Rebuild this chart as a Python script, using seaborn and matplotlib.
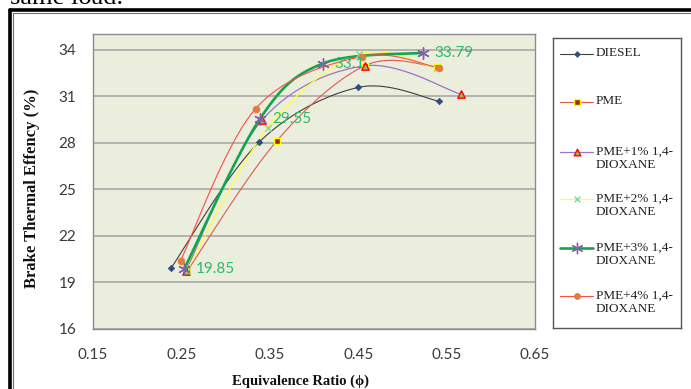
import numpy as np
import pandas as pd
import matplotlib
matplotlib.use("Agg")
import matplotlib.pyplot as plt
from matplotlib.lines import Line2D
import seaborn as sns

# Brake thermal efficiency (%) against equivalence ratio for each fuel blend
series_names = ["DIESEL", "PME", "PME+1% 1,4-\nDIOXANE", "PME+2% 1,4-\nDIOXANE",
                "PME+3% 1,4-\nDIOXANE", "PME+4% 1,4-\nDIOXANE"]
diesel_phi = [0.238, 0.338, 0.450, 0.541]
diesel_bte = [19.90, 28.04, 31.56, 30.68]
pme_phi = [0.256, 0.358, 0.458, 0.539]
pme_bte = [19.69, 28.12, 32.97, 32.88]
dx1_phi = [0.255, 0.341, 0.458, 0.566]
dx1_bte = [19.72, 29.44, 32.95, 31.12]
dx2_phi = [0.256, 0.348, 0.451, 0.539]
dx2_bte = [19.75, 28.97, 33.70, 32.78]
dx3_phi = [0.253, 0.339, 0.410, 0.523]
dx3_bte = [19.85, 29.55, 33.10, 33.79]
dx4_phi = [0.249, 0.334, 0.454, 0.541]
dx4_bte = [20.40, 30.19, 33.55, 32.82]
labelled_bte = dx3_bte  # values printed next to the PME+3% points

x_ticks = [0.15, 0.25, 0.35, 0.45, 0.55, 0.65]
y_ticks = [16, 19, 22, 25, 28, 31, 34]

series_data = [(diesel_phi, diesel_bte), (pme_phi, pme_bte), (dx1_phi, dx1_bte),
               (dx2_phi, dx2_bte), (dx3_phi, dx3_bte), (dx4_phi, dx4_bte)]

styles = [
    dict(line="#3F3F3F", lw=0.8, marker="D", s=11, fc="#2E4F7E", ec="#2E4F7E", mlw=0.5),
    dict(line="#DE5A4E", lw=0.8, marker="s", s=24, fc="#9C2A2A", ec="#FFFF00", mlw=1.0),
    dict(line="#9B72C4", lw=0.9, marker="^", s=28, fc="#9BBB59", ec="#FF0000", mlw=1.0),
    dict(line="#FFFF3A", lw=0.9, marker="x", s=22, fc="#7FD8A8", ec="#7FD8A8", mlw=1.0),
    dict(line="#12A54E", lw=1.9, marker=(6, 2, 0), s=70, fc="#8064A2", ec="#8064A2", mlw=1.0),
    dict(line="#FF4A4A", lw=0.8, marker="o", s=24, fc="#E27C3A", ec="#E27C3A", mlw=0.5),
]

# pixel scale of the plot area, used so the curve smoothing follows screen geometry
PX_X = 884.0
PX_Y = 15.56


def smooth_path(xs, ys, n=40):
    """Bezier smoothing through the given points (Catmull-Rom style controls)."""
    p = np.column_stack([np.asarray(xs) * PX_X, np.asarray(ys) * PX_Y])
    pts = np.vstack([p[0], p, p[-1]])
    segs = []
    t = np.linspace(0, 1, n)[:, None]
    for i in range(1, len(pts) - 2):
        p0, p1, p2, p3 = pts[i - 1], pts[i], pts[i + 1], pts[i + 2]
        c1 = p1 + (p2 - p0) / 6.0
        c2 = p2 - (p3 - p1) / 6.0
        seg = (1 - t) ** 3 * p1 + 3 * (1 - t) ** 2 * t * c1 + 3 * (1 - t) * t ** 2 * c2 + t ** 3 * p2
        segs.append(seg if i == 1 else seg[1:])
    c = np.vstack(segs)
    return c[:, 0] / PX_X, c[:, 1] / PX_Y


sns.set_style("white")
plt.rcParams["font.family"] = ["Lato", "DejaVu Sans"]

W, H = 691, 389
fig = plt.figure(figsize=(W / 100, H / 100), dpi=100)
fig.patch.set_facecolor("white")

L, R, T, B = 93, 535, 34, 329
ax = fig.add_axes([L / W, 1 - B / H, (R - L) / W, (B - T) / H])
ax.set_facecolor("#EBEEDD")

for (xs, ys), st in zip(series_data, styles):
    sx, sy = smooth_path(xs, ys)
    curve = pd.DataFrame({"phi": sx, "bte": sy})
    sns.lineplot(data=curve, x="phi", y="bte", ax=ax, sort=False, estimator=None,
                 color=st["line"], linewidth=st["lw"], zorder=3)
    pts = pd.DataFrame({"phi": xs, "bte": ys})
    sns.scatterplot(data=pts, x="phi", y="bte", ax=ax, marker=st["marker"], s=st["s"],
                    color=st["fc"], edgecolor=st["ec"], linewidth=st["mlw"], zorder=4)

for xv, yv in zip(dx3_phi, labelled_bte):
    ax.annotate(f"{yv:g}", (xv, yv), xytext=(12, 0), textcoords="offset pixels",
                ha="left", va="center", color="#2DB96A", fontsize=11, zorder=5)

ax.set_xlim(0.15, 0.65)
ax.set_ylim(16, 35)
ax.set_xticks(x_ticks)
ax.set_yticks(y_ticks)
ax.set_xticklabels([f"{v:.2f}" for v in x_ticks])
ax.set_yticklabels([str(v) for v in y_ticks])
ax.set_xlabel("")
ax.set_ylabel("")
ax.set_axisbelow(True)
ax.grid(axis="y", color="#A3A3A3", linewidth=1.1)
ax.grid(axis="x", visible=False)
for sp in ax.spines.values():
    sp.set_visible(True)
    sp.set_color("#8C8C8C")
    sp.set_linewidth(1.0)
ax.tick_params(axis="both", direction="out", length=4, width=0.8, color="#8C8C8C",
               labelcolor="#3A3A3A", labelsize=11)
ax.tick_params(axis="y", pad=8)
ax.tick_params(axis="x", pad=10)

serif = ["Liberation Serif", "DejaVu Serif"]
fig.text(32 / W, 1 - 188 / H, "Brake Thermal Effency (%)", rotation=90, ha="center",
         va="center", fontsize=12, fontweight="bold", family=serif, color="#111111")
fig.text(300 / W, 1 - 381 / H, "Equivalence Ratio (\u03d5)", ha="center", va="center",
         fontsize=10.5, fontweight="bold", family=serif, color="#111111")

# legend box
LL, LR, LT, LB = 553, 681, 38, 328
lax = fig.add_axes([LL / W, 1 - LB / H, (LR - LL) / W, (LB - LT) / H])
lax.set_xlim(0, LR - LL)
lax.set_ylim(LB - LT, 0)
lax.set_xticks([])
lax.set_yticks([])
lax.set_facecolor("white")
for sp in lax.spines.values():
    sp.set_color("#555555")
    sp.set_linewidth(1.0)
row_y = [16, 64, 114, 161, 210, 258]
for name, st, yy in zip(series_names, styles, row_y):
    lax.add_line(Line2D([7, 40], [yy, yy], color=st["line"], linewidth=st["lw"]))
    lax.scatter([24], [yy], marker=st["marker"], s=st["s"] * 0.8, c=st["fc"],
                edgecolors=st["ec"], linewidths=st["mlw"], zorder=3)
    lax.text(43, yy - 6.5, name, ha="left", va="top", fontsize=9.5, family=serif,
             color="#222222", linespacing=1.2)

# page frame and the line of document text above it
fig.add_artist(Line2D([10 / W, 10 / W], [0, 1 - 10 / H], color="black", lw=2.6,
                      transform=fig.transFigure))
fig.add_artist(Line2D([10 / W, 1], [1 - 10 / H, 1 - 10 / H], color="black", lw=2.6,
                      transform=fig.transFigure))
fig.add_artist(Line2D([13 / W, 13 / W], [0, 1 - 13 / H], color="#9A5C5C", lw=0.8,
                      transform=fig.transFigure))
fig.add_artist(Line2D([13 / W, 1], [1 - 13 / H, 1 - 13 / H], color="#9A5C5C", lw=0.8,
                      transform=fig.transFigure))
fig.text(10 / W, 1 - 4 / H, "same load.", ha="left", va="baseline", fontsize=19,
         family=serif, color="black")

fig.savefig("out.png", dpi=100)
